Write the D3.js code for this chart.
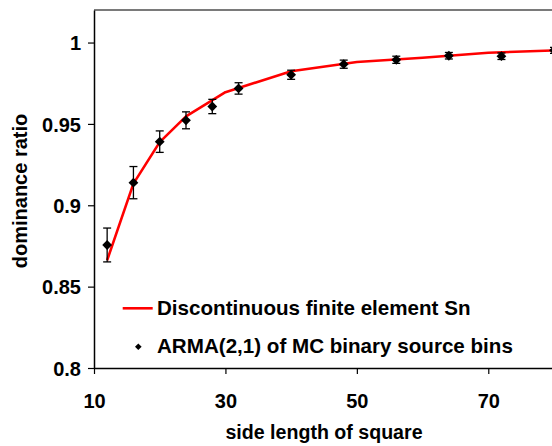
<!DOCTYPE html>
<html>
<head>
<meta charset="utf-8">
<script src="https://cdnjs.cloudflare.com/ajax/libs/d3/7.8.5/d3.min.js"></script>
<style>
  html, body { margin: 0; padding: 0; background: #fff; }
  svg { display: block; font-family: "Liberation Sans", Arial, sans-serif; font-weight: bold; }
</style>
</head>
<body>
<svg id="chart" width="552" height="446"></svg>
<script>
// ---- data ----
const mcX = [12, 16, 20, 24, 28, 32, 40, 48, 56, 64, 72, 80];
const mcY = [0.8756, 0.9139, 0.9391, 0.9522, 0.9607, 0.9718, 0.9802, 0.9867, 0.9894, 0.9919, 0.9916, 0.9952];
const mcErr = [0.0104, 0.0099, 0.0066, 0.0052, 0.0044, 0.0035, 0.0028, 0.0025, 0.0022, 0.0020, 0.0020, 0.0018];
const snX = [12, 16, 20, 24, 30, 40, 50, 60, 70, 80];
const snY = [0.8662, 0.9133, 0.9388, 0.9546, 0.9695, 0.9824, 0.9880, 0.9907, 0.9937, 0.9952];
const xTicks = [10, 30, 50, 70];
const yTicks = [0.8, 0.85, 0.9, 0.95, 1];
const yTickLabels = ["0.8", "0.85", "0.9", "0.95", "1"];
const legendLabels = ["Discontinuous finite element Sn", "ARMA(2,1) of MC binary source bins"];
const xTitle = "side length of square";
const yTitle = "dominance ratio";

(function () {
// ---- layout ----
const svg = d3.select("#chart");
const pL = 94, pR = 554, pT = 10, pB = 368;
const x = d3.scaleLinear().domain([10, 80]).range([pL, pR]);
const y = d3.scaleLinear().domain([0.8, 1.02]).range([pB, pT]);

// top border
svg.append("line").attr("x1", pL).attr("x2", pR).attr("y1", pT).attr("y2", pT)
  .attr("stroke", "#7a7a7a").attr("stroke-width", 1.8);

// y axis
const yAxis = svg.append("g").attr("transform", `translate(${pL},0)`)
  .call(d3.axisLeft(y).tickValues(yTicks).tickSize(6).tickSizeOuter(0).tickFormat((d, i) => yTickLabels[i]));
yAxis.select(".domain").attr("stroke", "#000").attr("stroke-width", 1.5);
yAxis.selectAll(".tick line").attr("stroke", "#000").attr("stroke-width", 1.2);
yAxis.selectAll(".tick text").attr("x", -13).attr("dy", "0.36em")
  .attr("font-size", 20).attr("font-weight", "bold").attr("font-family", "Liberation Sans, Arial, sans-serif").attr("fill", "#000");

// x axis
const xAxis = svg.append("g").attr("transform", `translate(0,${pB})`)
  .call(d3.axisBottom(x).tickValues(xTicks).tickSize(6).tickSizeOuter(0).tickFormat(d3.format("d")));
xAxis.select(".domain").attr("stroke", "#000").attr("stroke-width", 1.5);
xAxis.selectAll(".tick line").attr("stroke", "#000").attr("stroke-width", 1.2);
xAxis.selectAll(".tick text").attr("y", 39.5).attr("dy", 0)
  .attr("font-size", 20).attr("font-weight", "bold").attr("font-family", "Liberation Sans, Arial, sans-serif").attr("fill", "#000");

// axis titles
svg.append("text").attr("x", 324).attr("y", 439).attr("text-anchor", "middle")
  .attr("font-size", 19.6).text(xTitle);
svg.append("text").attr("transform", "translate(26.5,191) rotate(-90)").attr("text-anchor", "middle")
  .attr("font-size", 20).text(yTitle);

// Sn line
const sn = snX.map((d, i) => [d, snY[i]]);
svg.append("path").datum(sn)
  .attr("d", d3.line().x(d => x(d[0])).y(d => y(d[1])))
  .attr("fill", "none").attr("stroke", "#ff0000").attr("stroke-width", 2.6).attr("stroke-linejoin", "round");

// error bars
const mc = mcX.map((d, i) => ({ x: d, y: mcY[i], e: mcErr[i] }));
const eb = svg.append("g").attr("stroke", "#000").attr("stroke-width", 1.3);
mc.forEach(d => {
  const cx = x(d.x), y1 = y(d.y + d.e), y2 = y(d.y - d.e);
  eb.append("line").attr("x1", cx).attr("x2", cx).attr("y1", y1).attr("y2", y2);
  eb.append("line").attr("x1", cx - 4).attr("x2", cx + 4).attr("y1", y1).attr("y2", y1);
  eb.append("line").attr("x1", cx - 4).attr("x2", cx + 4).attr("y1", y2).attr("y2", y2);
});

// diamond markers
const diamond = d3.symbol().type(d3.symbolSquare).size(48);
svg.append("g").selectAll("path").data(mc).join("path")
  .attr("d", diamond)
  .attr("transform", d => `translate(${x(d.x)},${y(d.y)}) rotate(45)`)
  .attr("fill", "#000");

// legend
const lg = svg.append("g");
lg.append("line").attr("x1", 122.7).attr("x2", 152.7).attr("y1", 308.3).attr("y2", 308.3)
  .attr("stroke", "#ff0000").attr("stroke-width", 2.6);
lg.append("text").attr("x", 157).attr("y", 314.5).attr("font-size", 20.6).text(legendLabels[0]);
lg.append("path").attr("d", d3.symbol().type(d3.symbolSquare).size(22))
  .attr("transform", "translate(138.3,346.7) rotate(45)").attr("fill", "#000");
lg.append("text").attr("x", 157).attr("y", 353.3).attr("font-size", 20.6).text(legendLabels[1]);
})();
</script>
</body>
</html>
